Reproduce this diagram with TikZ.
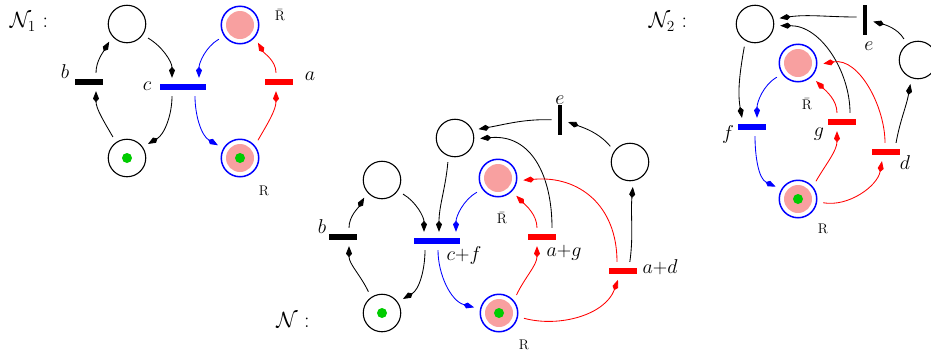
\RequirePackage{fix-cm}
\documentclass[tikz,border=0pt]{standalone}
\usetikzlibrary{arrows.meta}
\definecolor{pinkfill}{RGB}{248,160,160}
\definecolor{tokgreen}{RGB}{0,204,0}
\begin{document}
\begin{tikzpicture}[x=1pt,y=1pt,
  place/.style={circle,draw,line width=1.1pt,minimum size=37.5pt,inner sep=0pt},
  rplace/.style={circle,draw=blue,line width=1.5pt,minimum size=37.5pt,inner sep=0pt,
     path picture={\fill[pinkfill] (path picture bounding box.center) circle (14pt);}},
  token/.style={circle,fill=tokgreen,minimum size=10pt,inner sep=0pt},
  tbar/.style={rectangle,inner sep=0pt,minimum width=28pt,minimum height=6pt,fill=#1},
  wbar/.style={rectangle,inner sep=0pt,minimum width=46pt,minimum height=6pt,fill=#1},
  vbar/.style={rectangle,inner sep=0pt,minimum width=4.5pt,minimum height=30pt,fill=black},
  arc/.style={-{Kite[length=11pt,width=6pt,inset=3.5pt]},line width=0.85pt,shorten >=6pt,shorten <=6pt},
  lbl/.style={font=\fontsize{20}{24}\selectfont},
  nlbl/.style={font=\fontsize{22}{26}\selectfont},
  rlbl/.style={font=\fontsize{14}{17}\selectfont},
]
\useasboundingbox (0,0) rectangle (931,-354);
% ---------- N1 ----------
\node[place] (Pt1) at (127,-24) {};
\node[place] (Pb1) at (127,-158) {};
\node[rplace] (Rb1) at (240,-25) {};
\node[rplace] (R1) at (240,-158) {};
\node[token] (k1) at (Pb1) {};
\node[token] (k2) at (R1) {};
\node[tbar=black] (b1) at (89,-82) {};
\node[wbar=blue] (c1) at (183,-87) {};
\node[tbar=red] (a1) at (279,-82) {};
\draw[arc] (Pb1.125) to[out=120,in=-90] ([xshift=7pt]b1.south);
\draw[arc] ([xshift=7pt]b1.north) to[out=90,in=240] (Pt1.220);
\draw[arc] (Pt1.-35) to[out=-30,in=90] ([xshift=-11pt]c1.north);
\draw[arc] ([xshift=-11pt]c1.south) to[out=-90,in=30] (Pb1.35);
\draw[arc,blue] (Rb1.-145) to[out=210,in=90] ([xshift=16pt]c1.north);
\draw[arc,blue] ([xshift=12pt]c1.south) to[out=-90,in=150] (R1.150);
\draw[arc,red] (R1.40) to[out=60,in=-90] ([xshift=-3pt]a1.south);
\draw[arc,red] ([xshift=-3pt]a1.north) to[out=90,in=-60] (Rb1.-40);
\node[nlbl] (Nl1) at (29,-22) {$\mathcal{N}_1$ :};
\node[lbl] (lb1) at (65,-72) {$b$};
\node[lbl] (lc1) at (147,-86) {$c$};
\node[lbl] (la1) at (310,-76) {$a$};
\node[rlbl] (lRb1) at (280,-15) {$\bar{\mathrm{R}}$};
\node[rlbl] (lR1) at (264,-191) {R};
% ---------- N ----------
\node[place] (Pt) at (455,-138) {};
\node[place] (Pl) at (382,-180) {};
\node[place] (Pb) at (382,-313) {};
\node[rplace] (Rb) at (498,-178) {};
\node[rplace] (R) at (499,-313) {};
\node[place] (Pr) at (630,-162) {};
\node[token] (k3) at (Pb) {};
\node[token] (k4) at (R) {};
\node[tbar=black] (b) at (343,-237) {};
\node[wbar=blue] (cf) at (437,-241) {};
\node[tbar=red] (ag) at (542,-237) {};
\node[tbar=red] (ad) at (623,-271) {};
\node[vbar] (e) at (560,-120) {};
\draw[arc] (Pb.125) to[out=115,in=-90] ([xshift=6pt]b.south);
\draw[arc] ([xshift=6pt]b.north) to[out=90,in=240] (Pl.220);
\draw[arc] (Pl.-35) to[out=-30,in=90] ([xshift=-13pt]cf.north);
\draw[arc] ([xshift=-12pt]cf.south) to[out=-90,in=30] (Pb.35);
\draw[arc] (Pt.-110) to[out=-95,in=90] ([xshift=2pt]cf.north);
\draw[arc,blue] (Rb.-145) to[out=210,in=90] ([xshift=19pt]cf.north);
\draw[arc,blue] ([xshift=1pt]cf.south) to[out=-90,in=165] (R.168);
\draw[arc,red] (R.40) to[out=65,in=-90] ([xshift=-5pt]ag.south);
\draw[arc,red] ([xshift=-5pt]ag.north) to[out=90,in=-45] (Rb.-44);
\draw[arc] ([xshift=10pt]ag.north) to[out=90,in=5,looseness=1.2] (Pt.-3);
\draw[arc,red] ([xshift=-6pt]ad.north) to[out=90,in=5,looseness=1.2] (Rb.-8);
\draw[arc,red] (R.-11) to[out=-15,in=-110] ([xshift=-3pt]ad.south);
\draw[arc] ([xshift=6pt]ad.north) to[out=82,in=-95] (Pr.-80);
\draw[arc] (Pr.145) to[out=130,in=-20] (e.east);
\draw[arc] (e.west) to[out=178,in=10] (Pt.24);
\node[nlbl] (Nl) at (293,-320) {$\mathcal{N}$ :};
\node[lbl] (lb) at (322,-227) {$b$};
\node[lbl] (lcf) at (464,-255) {$c{+}f$};
\node[lbl] (lag) at (564,-253) {$a{+}g$};
\node[lbl] (lad) at (660,-267) {$a{+}d$};
\node[rlbl] (lRb) at (502,-218) {$\bar{\mathrm{R}}$};
\node[rlbl] (lR) at (524,-345) {R};
\node[lbl] (le) at (560,-100) {$e$};
% ---------- N2 ----------
\node[place] (Q) at (755,-24) {};
\node[rplace] (Rb2) at (798,-63) {};
\node[place] (Pr2) at (918,-60) {};
\node[rplace] (R2) at (798,-199) {};
\node[token] (k5) at (R2) {};
\node[tbar=blue] (f) at (752,-127) {};
\node[tbar=red] (g) at (842,-122) {};
\node[tbar=red] (d) at (886,-152) {};
\node[vbar] (e2) at (865,-20) {};
\draw[arc] (Q.-120) to[out=-100,in=100] ([xshift=-9pt]f.north);
\draw[arc,blue] (Rb2.-145) to[out=210,in=90] ([xshift=5pt]f.north);
\draw[arc,blue] ([xshift=3pt]f.south) to[out=-90,in=155] (R2.150);
\draw[arc,red] (R2.40) to[out=60,in=-90] ([xshift=-5pt]g.south);
\draw[arc,red] ([xshift=-5pt]g.north) to[out=90,in=-45] (Rb2.-45);
\draw[arc] ([xshift=8pt]g.north) to[out=90,in=0] (Q.-5);
\draw[arc,red] ([xshift=-1pt]d.north) to[out=90,in=10] (Rb2.-5);
\draw[arc,red] (R2.-8) to[out=-10,in=-100] ([xshift=-3pt]d.south);
\draw[arc] ([xshift=9pt]d.north) to[out=80,in=-100] (Pr2.-110);
\draw[arc] (Pr2.125) to[out=120,in=-15] (e2.east);
\draw[arc] ([yshift=3pt]e2.west) to[out=180,in=8] (Q.15);
\node[nlbl] (Nl2) at (668,-22) {$\mathcal{N}_2$ :};
\node[lbl] (le2) at (869,-46) {$e$};
\node[lbl] (lf) at (728,-134) {$f$};
\node[lbl] (lg) at (819,-134) {$g$};
\node[lbl] (ld) at (905,-163) {$d$};
\node[rlbl] (lRb2) at (807,-104) {$\bar{\mathrm{R}}$};
\node[rlbl] (lR2) at (823,-229) {R};
\end{tikzpicture}
\end{document}
